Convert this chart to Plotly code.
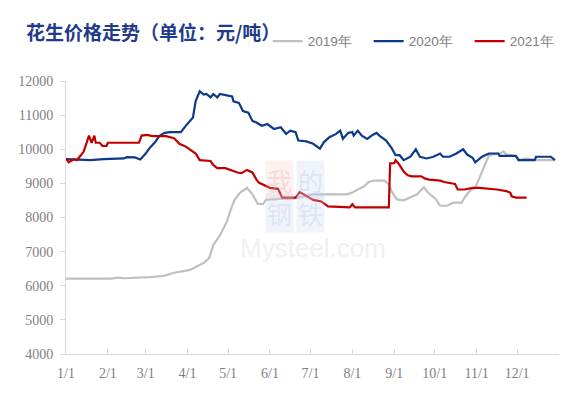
import plotly.graph_objects as go

# Day-of-year (0 = Jan 1) and price values (元/吨)
days_2019 = [0, 33, 39, 43, 62, 72, 80, 87, 92, 97, 102, 106, 109, 114, 119, 123, 125, 129, 134, 138,
             142, 146, 148, 154, 159, 168, 171, 178, 183, 208, 212, 216, 221, 224, 228, 236, 239, 241,
             245, 250, 256, 260, 262, 265, 268, 272, 274, 277, 282, 287, 293, 295, 299, 303, 306, 311,
             313, 316, 321, 324, 326, 334, 336, 341, 348, 362]
price_2019 = [6210, 6210, 6240, 6220, 6250, 6285, 6380, 6435, 6465, 6570, 6670, 6810, 7190, 7480, 7870,
              8345, 8530, 8730, 8870, 8680, 8395, 8395, 8520, 8530, 8550, 8550, 8580, 8630, 8680, 8680,
              8730, 8820, 8920, 9040, 9080, 9080, 8965, 8770, 8530, 8505, 8600, 8680, 8770, 8890, 8730,
              8580, 8530, 8345, 8345, 8435, 8435, 8580, 8780, 8870, 9160, 9630, 9810, 9850, 9870, 9940,
              9850, 9780, 9680, 9730, 9680, 9680]

days_2020 = [0, 11, 18, 28, 43, 45, 51, 55, 59, 62, 66, 69, 73, 77, 85, 89, 94, 96, 99, 102, 104, 107,
             109, 112, 114, 119, 123, 124, 128, 131, 135, 138, 141, 145, 149, 154, 159, 163, 166, 170,
             172, 178, 183, 188, 191, 195, 200, 203, 205, 209, 212, 213, 216, 219, 223, 227, 230, 232,
             237, 241, 244, 247, 250, 255, 259, 262, 267, 272, 277, 279, 284, 289, 294, 297, 301, 303,
             308, 313, 320, 321, 333, 335, 347, 348, 359, 362]
price_2020 = [9710, 9680, 9680, 9710, 9730, 9770, 9760, 9700, 9875, 10040, 10210, 10385, 10480, 10500,
              10500, 10700, 10930, 11410, 11700, 11600, 11620, 11520, 11620, 11520, 11620, 11580, 11550,
              11405, 11360, 11120, 11075, 10830, 10785, 10690, 10740, 10595, 10645, 10450, 10545, 10500,
              10255, 10230, 10160, 10020, 10210, 10355, 10450, 10545, 10305, 10480, 10500, 10400, 10545,
              10400, 10305, 10420, 10480, 10400, 10255, 10040, 9825, 9825, 9680, 9780, 10000, 9780, 9730,
              9780, 9875, 9780, 9780, 9875, 10000, 9845, 9750, 9615, 9780, 9875, 9875, 9805, 9805, 9680,
              9680, 9780, 9780, 9680]

days_2021 = [0, 2, 6, 8, 11, 13, 15, 17, 19, 21, 22, 25, 27, 30, 31, 54, 56, 60, 64, 74, 80, 84, 89, 93,
             96, 99, 107, 109, 112, 118, 122, 127, 130, 134, 138, 141, 143, 151, 157, 160, 170, 173, 178,
             183, 189, 194, 210, 212, 214, 239, 240, 243, 244, 246, 250, 253, 256, 263, 266, 269, 277,
             280, 288, 290, 295, 301, 306, 312, 319, 326, 329, 330, 333, 341]
price_2021 = [9730, 9620, 9710, 9680, 9825, 9925, 10160, 10400, 10190, 10400, 10190, 10190, 10095, 10095,
              10190, 10190, 10400, 10420, 10385, 10385, 10325, 10160, 10070, 9970, 9875, 9680, 9655, 9540,
              9445, 9445, 9380, 9320, 9300, 9395, 9320, 9110, 9015, 8870, 8840, 8585, 8585, 8745, 8630,
              8515, 8470, 8325, 8295, 8390, 8295, 8295, 9590, 9590, 9680, 9590, 9350, 9235, 9205, 9205,
              9140, 9110, 9080, 9040, 8985, 8820, 8820, 8870, 8870, 8850, 8820, 8775, 8725, 8620, 8585,
              8585]

series_names = ["2019年", "2020年", "2021年"]
series_colors = ["#BFBFBF", "#0B3A8A", "#C00000"]

tick_days = [0, 31, 59, 90, 120, 151, 181, 212, 243, 273, 304, 334, 365]
tick_labels = ["1/1", "2/1", "3/1", "4/1", "5/1", "6/1", "7/1", "8/1", "9/1", "10/1", "11/1", "12/1", ""]

title_text = "花生价格走势（单位：元/吨）"

fig = go.Figure()
for name, xs, ys, col in zip(series_names, [days_2019, days_2020, days_2021],
                             [price_2019, price_2020, price_2021], series_colors):
    fig.add_trace(go.Scatter(x=xs, y=ys, mode="lines", name=name,
                             line=dict(color=col, width=2.2), hoverinfo="skip"))

tick_font = dict(family="Liberation Serif", size=14, color="#7F7F7F")

fig.update_layout(
    width=585, height=393,
    margin=dict(l=65.5, r=25.5, t=81, b=33.3, pad=0),
    paper_bgcolor="white", plot_bgcolor="white",
    showlegend=True,
    legend=dict(orientation="h", x=0.409, xanchor="left", y=1.145, yanchor="middle",
                font=dict(family="Liberation Sans", size=13.5, color="#808080"),
                entrywidth=56, bgcolor="rgba(0,0,0,0)", borderwidth=0),
    xaxis=dict(range=[0, 365], tickmode="array", tickvals=tick_days, ticktext=tick_labels,
               showgrid=False, zeroline=False, showline=True, linecolor="#D9D9D9", linewidth=1,
               ticks="inside", ticklen=5, tickcolor="#D9D9D9", tickfont=tick_font,
               ticklabelstandoff=6, fixedrange=True),
    yaxis=dict(range=[4000, 12000], dtick=1000, tick0=4000, tickformat="d", showgrid=False,
               zeroline=False, showline=True, linecolor="#D9D9D9", linewidth=1, ticks="outside",
               ticklen=5, tickcolor="#D9D9D9", tickfont=tick_font, ticklabelstandoff=4,
               fixedrange=True),
)

annotations = [
    dict(text="<b>" + title_text + "</b>", xref="paper", yref="paper", x=-0.086, y=1.183,
         xanchor="left", yanchor="middle", showarrow=False,
         font=dict(family="Noto Sans CJK SC", size=19, color="#1F3A8A")),
    # faint watermark
    dict(text="Mysteel.com", xref="paper", yref="paper", x=(313 - 65.5) / 494.0,
         y=(359.7 - 251) / 278.7, xanchor="center", yanchor="middle", showarrow=False,
         font=dict(family="Liberation Sans", size=26, color="rgba(225,225,230,0.5)")),
]
wm_chars = ["我", "的", "钢", "铁"]
wm_pos = [(279, 182), (310, 182), (279, 216), (310, 216)]
wm_bg = ["rgba(245,190,190,0.22)", "rgba(200,208,235,0.25)", "rgba(200,208,235,0.25)", "rgba(200,208,235,0.25)"]
wm_fg = ["rgba(235,160,160,0.3)", "rgba(180,190,225,0.3)", "rgba(180,190,225,0.3)", "rgba(180,190,225,0.3)"]
for ch, (px, py), bg, fg in zip(wm_chars, wm_pos, wm_bg, wm_fg):
    annotations.append(dict(text=ch, xref="paper", yref="paper",
                            x=(px - 65.5) / 494.0, y=(359.7 - py) / 278.7,
                            xanchor="center", yanchor="middle", showarrow=False,
                            bgcolor=bg, borderpad=1,
                            font=dict(family="Noto Sans CJK SC", size=25, color=fg)))
fig.update_layout(annotations=annotations)

fig.write_html("out.html", config={"displayModeBar": False},
               post_script="document.body.style.margin='0';document.body.style.overflow='hidden';")
